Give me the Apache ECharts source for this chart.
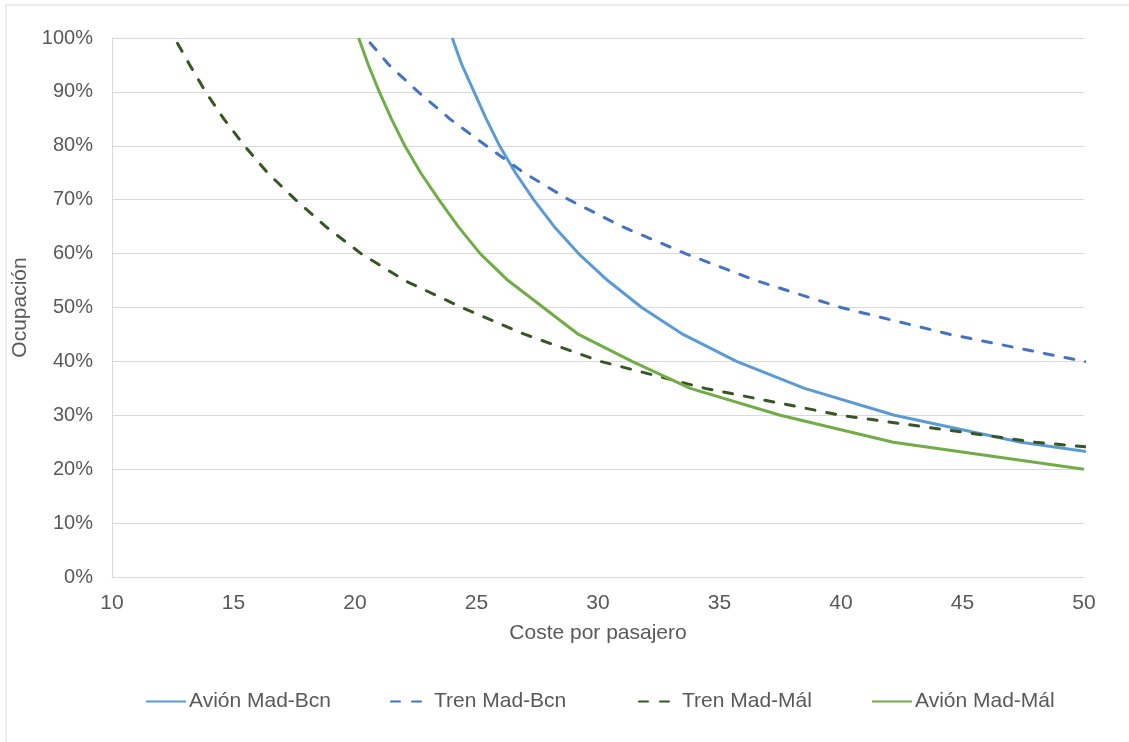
<!DOCTYPE html>
<html>
<head>
<meta charset="utf-8">
<script src="https://cdn.jsdelivr.net/npm/echarts@6/dist/echarts.min.js"></script>
<style>
html,body{margin:0;padding:0;background:#fff;}
#chart{width:1129px;height:742px;}
</style>
</head>
<body>
<div id="chart"></div>
<script>
// Occupancy (%) and cost per passenger
const seriesNames = ['Avión Mad-Bcn', 'Tren Mad-Bcn', 'Tren Mad-Mál', 'Avión Mad-Mál'];

const avionBcnOcc  = [100, 95, 90, 85, 80, 75, 70, 65, 60, 55, 50, 45, 40, 35, 30, 25, 20];
const avionBcnCost = [24.0, 24.4, 24.9, 25.4, 25.95, 26.6, 27.35, 28.2, 29.2, 30.4, 31.8, 33.5, 35.7, 38.5, 42.2, 47.4, 55.2];

const trenBcnOcc  = [105, 100, 95, 90, 85, 80, 75, 70, 65, 60, 55, 50, 45, 40, 35];
const trenBcnCost = [19.5, 20.45, 21.4, 22.6, 23.9, 25.4, 26.95, 28.8, 31.0, 33.6, 36.5, 40.0, 44.5, 50.0, 57.1];

const trenMalOcc  = [99, 95, 90, 85, 80, 75, 70, 65, 60, 55, 50, 45, 40, 35, 30, 25, 20];
const trenMalCost = [12.7, 13.2, 13.85, 14.6, 15.45, 16.4, 17.55, 18.8, 20.25, 22.05, 24.4, 27.0, 30.1, 34.4, 40.0, 48.0, 60.0];

const avionMalOcc  = [100, 95, 90, 85, 80, 75, 70, 65, 60, 55, 50, 45, 40, 35, 30, 25, 20];
const avionMalCost = [20.15, 20.55, 21.0, 21.5, 22.05, 22.7, 23.45, 24.25, 25.15, 26.3, 27.75, 29.2, 31.4, 33.8, 37.5, 42.15, 50.0];

const legendLefts = [140, 385, 633, 866];

const pairs = (xs, ys) => xs.map((x, i) => [x, ys[i]]);

const chart = echarts.init(document.getElementById('chart'));
const font = 'Liberation Sans, Arial, sans-serif';
const textColor = '#595959';
const gridColor = '#D9D9D9';
const fs = 21;

function lineSeries(name, data, color, dashed) {
  return {
    name: name,
    type: 'line',
    data: data,
    symbol: 'none',
    showSymbol: false,
    smooth: false,
    clip: true,
    lineStyle: {
      color: color,
      width: 3,
      type: dashed ? [9, 12] : 'solid',
      cap: dashed ? 'round' : 'butt'
    },
    itemStyle: { color: color }
  };
}

chart.setOption({
  animation: false,
  backgroundColor: '#ffffff',
  textStyle: { fontFamily: font },
  graphic: [{
    type: 'rect',
    shape: { x: 6, y: 5, width: 1140, height: 760 },
    style: { fill: 'none', stroke: gridColor, lineWidth: 1 },
    silent: true
  }],
  grid: { left: 112, right: 45, top: 38, bottom: 165, containLabel: false },
  legend: seriesNames.map((n, i) => ({
    left: legendLefts[i],
    top: 686,
    itemWidth: 40,
    itemHeight: 14,
    itemGap: 0,
    itemStyle: { opacity: 0 },
    textStyle: { fontSize: fs, color: textColor, fontFamily: font, padding: [0, 0, 0, -2] },
    data: [n]
  })),
  xAxis: {
    type: 'value',
    min: 10,
    max: 50,
    interval: 5,
    name: 'Coste por pasajero',
    nameLocation: 'middle',
    nameGap: 46,
    nameTextStyle: { fontSize: fs, color: textColor, fontFamily: font },
    axisLine: { show: true, lineStyle: { color: gridColor, width: 1 } },
    axisTick: { show: false },
    axisLabel: { fontSize: fs, color: textColor, margin: 16, fontFamily: font },
    splitLine: { show: false }
  },
  yAxis: {
    type: 'value',
    min: 0,
    max: 100,
    interval: 10,
    name: 'Ocupación',
    nameLocation: 'middle',
    nameGap: 80,
    nameRotate: 90,
    nameTextStyle: { fontSize: fs, color: textColor, fontFamily: font },
    axisLine: { show: true, lineStyle: { color: gridColor, width: 1 } },
    axisTick: { show: false },
    axisLabel: { fontSize: 20, color: textColor, margin: 19, formatter: '{value}%', fontFamily: font },
    splitLine: { show: true, lineStyle: { color: gridColor, width: 1 } }
  },
  series: [
    lineSeries(seriesNames[0], pairs(avionBcnCost, avionBcnOcc), '#5B9BD5', false),
    lineSeries(seriesNames[1], pairs(trenBcnCost, trenBcnOcc), '#4472C4', true),
    lineSeries(seriesNames[2], pairs(trenMalCost, trenMalOcc), '#375623', true),
    lineSeries(seriesNames[3], pairs(avionMalCost, avionMalOcc), '#70AD47', false)
  ]
});
</script>
</body>
</html>
